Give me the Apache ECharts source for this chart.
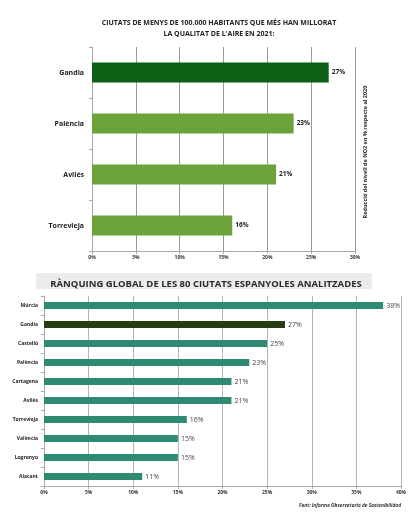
<!DOCTYPE html>
<html><head><meta charset="utf-8">
<script src="https://cdn.jsdelivr.net/npm/echarts@6/dist/echarts.min.js"></script>
<style>html,body{margin:0;padding:0;background:#fff}#c{width:418px;height:523px}</style>
</head><body><div id="c"></div>
<script>
const topCities = ['Gandia', 'Palència', 'Avilés', 'Torrevieja'];
const topValues = [27, 23, 21, 16];
const topTicks = [0, 5, 10, 15, 20, 25, 30];

const rankCities = ['Múrcia', 'Gandia', 'Castelló', 'Palència', 'Cartagena', 'Avilés', 'Torrevieja', 'València', 'Logronyo', 'Alacant'];
const rankValues = [38, 27, 25, 23, 21, 21, 16, 15, 15, 11];
const rankTicks = [0, 5, 10, 15, 20, 25, 30, 35, 40];

const topTitle = ['CIUTATS DE MENYS DE 100.000 HABITANTS QUE MÉS HAN MILLORAT', 'LA QUALITAT DE L\'AIRE EN 2021:'];
const sideTitle = 'Reducció del nivell de NO2 en % respecte al 2020';
const rankTitle = 'RÀNQUING GLOBAL DE LES 80 CIUTATS ESPANYOLES ANALITZADES';
const sourceText = 'Font: Informe Observatorio de Sostenibilidad';

const chart = echarts.init(document.getElementById('c'), null, {renderer: 'canvas'});
const F = '"Open Sans", "Noto Sans", sans-serif';

chart.setOption({
  backgroundColor: '#fff',
  animation: false,
  graphic: [
    {type: 'text', x: 219, y: 17, style: {text: topTitle.join('\n'), font: 'bold 7px ' + F, fill: '#222', textAlign: 'center', lineHeight: 11}},
    {type: 'text', x: 365, y: 152, rotation: Math.PI / 2, style: {text: sideTitle, font: 'bold 5.5px ' + F, fill: '#222', textAlign: 'center', textVerticalAlign: 'middle'}},
    {type: 'rect', shape: {x: 36, y: 273, width: 336, height: 16}, style: {fill: '#ececec'}},
    {type: 'text', x: 206, y: 284, style: {text: rankTitle, font: 'bold 9.5px ' + F, fill: '#2a2a2a', textAlign: 'center', textVerticalAlign: 'middle'}},
    {type: 'text', x: 401, y: 506, style: {text: sourceText, font: 'italic bold 4.8px ' + F, fill: '#333', textAlign: 'right', textVerticalAlign: 'middle'}}
  ],
  grid: [
    {left: 92, right: 63, top: 47, height: 204},
    {left: 44, right: 17, top: 296, height: 190}
  ],
  xAxis: [
    {gridIndex: 0, type: 'value', min: topTicks[0], max: topTicks[topTicks.length - 1], interval: 5,
      axisLine: {show: true, lineStyle: {color: '#aaa'}},
      axisTick: {show: true, length: 3, lineStyle: {color: '#aaa'}},
      splitLine: {show: true, lineStyle: {color: '#9a9a9a', width: 1}},
      axisLabel: {formatter: '{value}%', fontSize: 5, fontWeight: 'bold', color: '#333', margin: 4, fontFamily: F}},
    {gridIndex: 1, type: 'value', min: rankTicks[0], max: rankTicks[rankTicks.length - 1], interval: 5,
      axisLine: {show: true, lineStyle: {color: '#aaa'}},
      axisTick: {show: true, length: 3, lineStyle: {color: '#aaa'}},
      splitLine: {show: true, lineStyle: {color: '#b5b5b5', width: 1}},
      axisLabel: {formatter: '{value}%', fontSize: 5, fontWeight: 'bold', color: '#333', margin: 4, fontFamily: F}}
  ],
  yAxis: [
    {gridIndex: 0, type: 'category', data: topCities, inverse: true,
      axisLine: {show: true, lineStyle: {color: '#aaa'}},
      axisTick: {show: true, length: 3, lineStyle: {color: '#aaa'}},
      axisLabel: {fontSize: 7, fontWeight: 'bold', color: '#222', margin: 8, fontFamily: F}},
    {gridIndex: 1, type: 'category', data: rankCities, inverse: true,
      axisLine: {show: true, lineStyle: {color: '#aaa'}},
      axisTick: {show: true, length: 3, lineStyle: {color: '#aaa'}},
      axisLabel: {fontSize: 5, fontWeight: 'bold', color: '#222', margin: 6, fontFamily: F}}
  ],
  series: [
    {type: 'bar', xAxisIndex: 0, yAxisIndex: 0, barWidth: 20,
      data: topValues.map((v, i) => ({value: v, itemStyle: {color: i === 0 ? '#0c6015' : '#6ba23a'}})),
      label: {show: true, position: 'right', formatter: '{c}%', fontSize: 6.5, fontWeight: 'bold', color: '#222', distance: 3, fontFamily: F}},
    {type: 'bar', xAxisIndex: 1, yAxisIndex: 1, barWidth: 7,
      data: rankValues.map((v, i) => ({value: v, itemStyle: {color: i === 1 ? '#263d11' : '#2e8a72'}})),
      label: {show: true, position: 'right', formatter: '{c}%', fontSize: 7, color: '#444', distance: 3, fontFamily: F}}
  ]
});
</script></body></html>
